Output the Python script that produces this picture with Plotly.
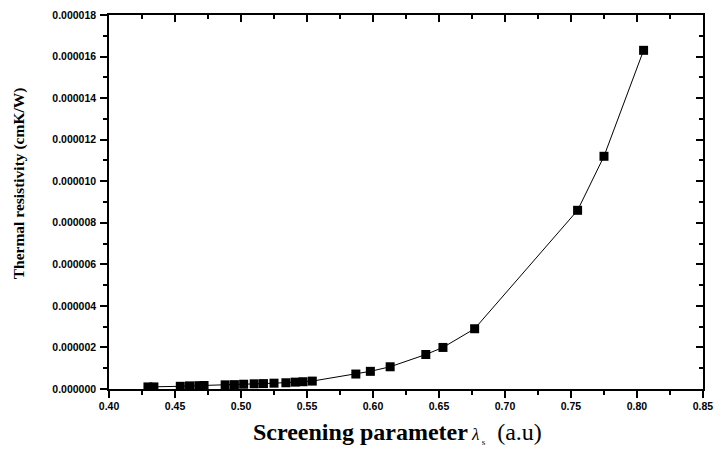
import plotly.graph_objects as go

# Data
screening_param = [0.4295, 0.434, 0.454, 0.461, 0.468, 0.472, 0.488, 0.495, 0.502,
                   0.510, 0.517, 0.525, 0.534, 0.541, 0.547, 0.554,
                   0.587, 0.598, 0.613, 0.640, 0.653, 0.677, 0.755, 0.775, 0.805]
thermal_resistivity = [0.10e-6, 0.10e-6, 0.13e-6, 0.15e-6, 0.16e-6, 0.17e-6, 0.20e-6,
                       0.21e-6, 0.23e-6, 0.25e-6, 0.26e-6, 0.28e-6, 0.30e-6, 0.33e-6,
                       0.35e-6, 0.38e-6,
                       0.72e-6, 0.85e-6, 1.07e-6, 1.66e-6, 2.0e-6, 2.9e-6, 8.6e-6,
                       11.2e-6, 16.3e-6]

x_ticks = [0.40, 0.45, 0.50, 0.55, 0.60, 0.65, 0.70, 0.75, 0.80, 0.85]
x_ticklabels = ["0.40", "0.45", "0.50", "0.55", "0.60", "0.65", "0.70", "0.75", "0.80", "0.85"]
y_ticks = [0, 2e-6, 4e-6, 6e-6, 8e-6, 10e-6, 12e-6, 14e-6, 16e-6, 18e-6]
y_ticklabels = ["0.000000", "0.000002", "0.000004", "0.000006", "0.000008",
                "0.000010", "0.000012", "0.000014", "0.000016", "0.000018"]

x_range = [0.39999, 0.85001]
y_range = [-1e-11, 18.00001e-6]

tickfont = dict(family="Liberation Sans", size=10.5, color="black", weight="bold")

fig = go.Figure()
fig.add_trace(go.Scatter(
    x=screening_param, y=thermal_resistivity, mode="lines+markers",
    line=dict(color="black", width=1),
    marker=dict(symbol="square", size=9, color="black"),
    showlegend=False, hoverinfo="x+y",
))
# invisible companion trace so the mirrored (top/right) axes are drawn
fig.add_trace(go.Scatter(
    x=screening_param, y=thermal_resistivity, mode="markers",
    marker=dict(opacity=0), xaxis="x2", yaxis="y2",
    showlegend=False, hoverinfo="skip",
))

axis_common = dict(showline=True, linecolor="black", linewidth=1.5, showgrid=False,
                   zeroline=False, tickcolor="black", tickwidth=1.5, ticklen=7)

fig.update_layout(
    width=722, height=456,
    margin=dict(l=109, r=9, t=14, b=67),
    paper_bgcolor="white", plot_bgcolor="white",
    xaxis=dict(range=x_range, tickvals=x_ticks, ticktext=x_ticklabels, ticks="outside",
               tickfont=tickfont, ticklabeloverflow="allow",
               minor=dict(dtick=0.025, tick0=0.40, ticks="outside", ticklen=4,
                          tickcolor="black", tickwidth=1.5),
               **axis_common),
    yaxis=dict(range=y_range, tickvals=y_ticks, ticktext=y_ticklabels, ticks="outside",
               tickfont=tickfont, ticklabelstandoff=2, ticklabeloverflow="allow",
               minor=dict(dtick=1e-6, tick0=0, ticks="outside", ticklen=4,
                          tickcolor="black", tickwidth=1.5),
               **axis_common),
    xaxis2=dict(range=x_range, overlaying="x", side="top", anchor="y2",
                tickvals=x_ticks, ticks="inside", showticklabels=False,
                minor=dict(dtick=0.025, tick0=0.40, ticks="inside", ticklen=4,
                           tickcolor="black", tickwidth=1.5),
                **axis_common),
    yaxis2=dict(range=y_range, overlaying="y", side="right", anchor="x2",
                tickvals=y_ticks, ticks="inside", showticklabels=False,
                minor=dict(dtick=1e-6, tick0=0, ticks="inside", ticklen=4,
                           tickcolor="black", tickwidth=1.5),
                **axis_common),
)

fig.add_annotation(
    text="<b>Thermal resistivity (cmK/W)</b>",
    xref="paper", yref="paper", x=-0.152, y=0.5 + (201.5 - 183) / 375,
    textangle=-90, showarrow=False, xanchor="center", yanchor="middle",
    font=dict(family="Liberation Serif", size=15.5, color="black"),
)
fig.add_annotation(
    text=("<b>Screening parameter</b>"
          "<span style='font-size:17px'> <i>λ</i></span>"
          "<sub><span style='font-size:9px'> s</span></sub>"
          "<span style='font-size:24px'>  (a.u)</span>"),
    xref="paper", yref="paper", x=(402 - 109) / 604, y=-(433 - 389) / 375,
    showarrow=False, xanchor="center", yanchor="middle",
    font=dict(family="Liberation Serif", size=24, color="black"),
)

fig.write_html(
    "out.html",
    config={"displayModeBar": False},
    post_script="document.body.style.margin='0';document.body.style.overflow='hidden';",
)
